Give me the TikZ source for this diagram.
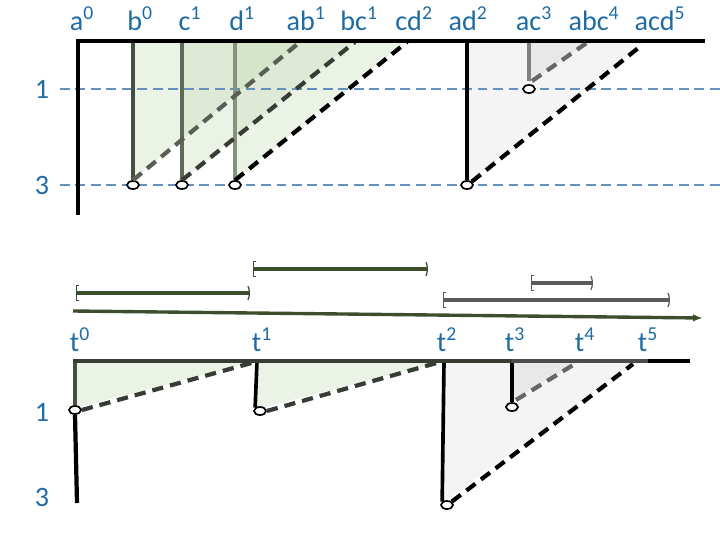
\documentclass[tikz,border=0pt]{standalone}
\usepackage{fontspec}
\setmainfont{Carlito}
\usepackage{tikz}
\usetikzlibrary{arrows.meta,shapes.geometric}
\definecolor{lblue}{RGB}{31,107,163}
\definecolor{gridblue}{RGB}{100,145,190}
\definecolor{trigreen}{RGB}{190,215,175}
\definecolor{stemb}{RGB}{70,78,65}
\definecolor{stemc}{RGB}{95,105,88}
\definecolor{stemd}{RGB}{135,145,125}
\definecolor{diagb}{RGB}{90,95,85}
\definecolor{diagc}{RGB}{55,60,52}
\definecolor{ivgreen}{RGB}{60,78,45}
\definecolor{ivgray}{RGB}{90,90,90}

\begin{document}
\begin{tikzpicture}[x=0.025cm,y=-0.025cm,
  lbl/.style={text=lblue,font=\fontsize{20}{23}\selectfont,inner sep=0pt},
  axis/.style={line width=3pt,line join=miter},
  lvl/.style={gridblue,line width=2pt,dash pattern=on 7pt off 4pt},
  hole/.style={draw,ellipse,fill=white,line width=1.2pt,minimum width=0.3cm,minimum height=0.2cm,inner sep=0pt},
  stem/.style={line width=2.6pt},
  dsh/.style={line width=3pt,dash pattern=on 8pt off 5pt},
  tri/.style={fill=trigreen,fill opacity=0.3},
  ival/.style={line width=2.2pt,{Bracket[width=12pt,length=2pt,line width=0.9pt]}-{Parenthesis[width=12pt,length=2.5pt,line width=0.9pt]}}]
\useasboundingbox (0,0) rectangle (720,540);
% upper chart
\fill[tri] (133,41) -- (133,180) -- (300,41) -- cycle;
\fill[tri] (182,41) -- (182,180) -- (355,41) -- cycle;
\fill[tri] (235,41) -- (235,180) -- (407,41) -- cycle;
\fill[gray!9] (467,41) -- (467,183) -- (645,41) -- cycle;
\fill[gray!18] (529,41) -- (529,82) -- (590,41) -- cycle;
\foreach \v/\y in {1/89,3/185} {
  \node[lbl] (lv\v) at (42,\y) {\v};
  \draw[lvl] (60,\y) -- (720,\y);
}
\foreach \n/\t/\x in {a/a\textsuperscript{0}/82,b/b\textsuperscript{0}/140,c/c\textsuperscript{1}/190,d/d\textsuperscript{1}/242,
  ab/ab\textsuperscript{1}/306,bc/bc\textsuperscript{1}/359,cd/cd\textsuperscript{2}/414,ad/ad\textsuperscript{2}/468,
  ac/ac\textsuperscript{3}/534,abc/abc\textsuperscript{4}/594,acd/acd\textsuperscript{5}/660}
  \node[lbl,anchor=base] (l\n) at (\x,30) {\t};
\foreach \n/\x/\y in {b/133/185,c/182/185,d/235/185,ad/467/185,ac/529/89}
  \node[hole] (h\n) at (\x,\y) {};
\draw[stem,stemb] (133,41) -- (hb.north);
\draw[stem,stemc] (182,41) -- (hc.north);
\draw[stem,stemd] (235,41) -- (hd.north);
\draw[stem] (467,41) -- (had.north);
\draw[stem,gray] (529,41) -- (529,81);
\draw[dsh,diagb] (hb.north) -- (300,42);
\draw[dsh,diagc] (hc.north) -- (355,42);
\draw[dsh] (hd.north) -- (407,42);
\draw[dsh] (had.north east) -- (642,45);
\draw[dsh,gray!80!black] (532,81) -- (588,42);
\draw[axis] (78,215) -- (78,41) -- (705,41);
% intervals
\draw[ival,ivgreen] (76,293) -- (250,293);
\draw[ival,ivgreen] (253,269) -- (428,269);
\draw[ival,ivgray] (531,283) -- (593,283);
\draw[ival,ivgray] (443,300) -- (670,300);
\draw[-{Latex[length=7pt]},line width=2.4pt,ivgreen] (73,311) -- (703,318);
% lower chart
\fill[tri] (75,361) -- (75,408) -- (257,361) -- cycle;
\fill[tri] (257,361) -- (257,409) -- (444,361) -- cycle;
\fill[gray!9] (444,361) -- (444,502) -- (636,361) -- cycle;
\fill[gray!18] (512,361) -- (512,400) -- (580,361) -- cycle;
\foreach \n/\x in {0/80,1/262,2/447,3/515,4/585,5/648}
  \node[lbl,anchor=base] (t\n) at (\x,351) {t\textsuperscript{\n}};
\node[lbl] (lw1) at (42,412) {1};
\node[lbl] (lw3) at (42,497) {3};
\foreach \n/\x/\y in {t0/75/410,t1/260/411,t2/447/505,t3/512/407}
  \node[hole] (h\n) at (\x,\y) {};
\draw[stem,stemb] (75,361) -- (ht0.north);
\draw[line width=3pt] (ht0.south) -- (77,503);
\draw[stem] (257,361) -- (ht1.north west);
\draw[stem] (444,361) -- (ht2.north west);
\draw[stem] (512,361) -- (ht3.north);
\draw[dsh,diagc] (ht0.east) -- (255,362);
\draw[dsh,diagc] (ht1.east) -- (440,362);
\draw[dsh] (ht2.north east) -- (633,364);
\draw[dsh,gray!80!black] (516,400) -- (578,362);
\draw[line width=3pt,diagc] (73,361) -- (512,361);
\draw[line width=3pt,gray!60!black] (512,361) -- (648,361);
\draw[line width=3pt] (648,361) -- (690,361);
\end{tikzpicture}
\end{document}
